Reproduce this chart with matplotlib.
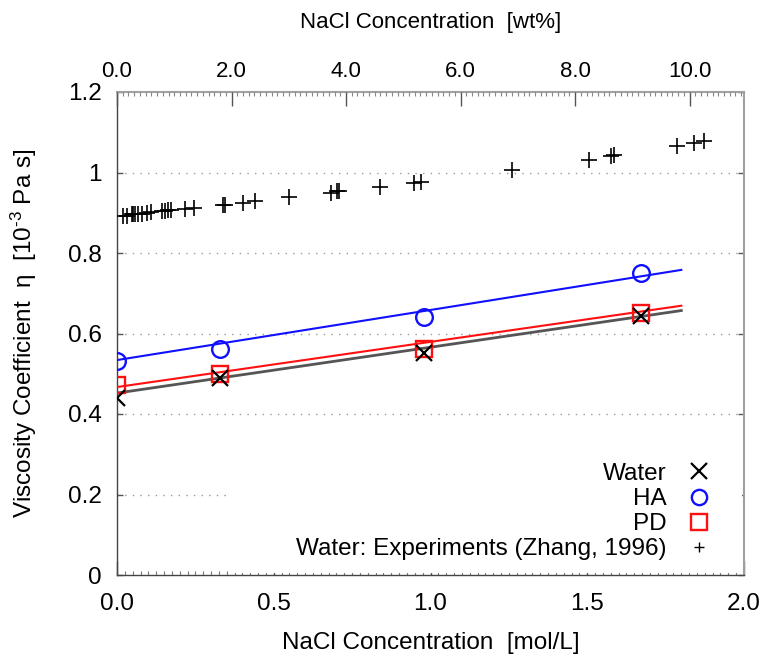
import matplotlib
matplotlib.use("Agg")
import matplotlib.pyplot as plt
from matplotlib.lines import Line2D
from matplotlib.patches import Rectangle
from matplotlib.ticker import MultipleLocator
from matplotlib import font_manager

# ---------------- data ----------------
sim_x = [0.0, 0.33, 0.98, 1.67]
water_y = [0.44, 0.49, 0.552, 0.643]
ha_y = [0.532, 0.561, 0.641, 0.750]
pd_y = [0.472, 0.499, 0.561, 0.651]

fit_x = [0.0, 1.8]
water_fit = [0.452, 0.657]
ha_fit = [0.534, 0.758]
pd_fit = [0.467, 0.669]

exp_x = [0.020, 0.031, 0.047, 0.052, 0.058, 0.068, 0.079, 0.095, 0.108, 0.143,
         0.153, 0.164, 0.172, 0.217, 0.247, 0.338, 0.345, 0.402, 0.441, 0.550,
         0.684, 0.702, 0.707, 0.840, 0.947, 0.971, 1.261, 1.506, 1.575, 1.584,
         1.785, 1.839, 1.873]
exp_y = [0.893, 0.893, 0.896, 0.896, 0.896, 0.897, 0.898, 0.899, 0.901, 0.904,
         0.905, 0.906, 0.906, 0.909, 0.911, 0.919, 0.919, 0.925, 0.928, 0.938,
         0.950, 0.953, 0.953, 0.964, 0.973, 0.977, 1.007, 1.032, 1.041, 1.043,
         1.066, 1.073, 1.078]

x_ticks = [0.0, 0.5, 1.0, 1.5, 2.0]
x_ticklabels = ["0.0", "0.5", "1.0", "1.5", "2.0"]
y_ticks = [0, 0.2, 0.4, 0.6, 0.8, 1.0, 1.2]
y_ticklabels = ["0", "0.2", "0.4", "0.6", "0.8", "1", "1.2"]
top_ticks = [0, 2, 4, 6, 8, 10]
top_ticklabels = ["0.0", "2.0", "4.0", "6.0", "8.0", "10.0"]
top_max = 10.95  # wt% at 2.0 mol/L on the top scale

labels = ["Water", "HA", "PD", "Water: Experiments (Zhang, 1996)"]

# ---------------- style ----------------
names = {f.name for f in font_manager.fontManager.ttflist}
main_font = "Liberation Sans" if "Liberation Sans" in names else "DejaVu Sans"
plt.rcParams['font.family'] = [main_font, 'DejaVu Sans']
plt.rcParams['mathtext.fontset'] = 'custom'
plt.rcParams['mathtext.rm'] = main_font
plt.rcParams['mathtext.it'] = main_font + ':italic'
plt.rcParams['mathtext.bf'] = main_font + ':bold'

fig = plt.figure(figsize=(7.63, 6.55), dpi=100)
ax = fig.add_axes([117/763, 80/655, 627/763, 483/655])

FS_TICK = 17.5
FS_LAB = 17.5
FS_TOP = 16
grid_color = "#9a9a9a"

# gridlines
for yv in y_ticks[1:-1]:
    ax.axhline(yv, color=grid_color, lw=1.0, ls=(0, (1, 4.5)), zorder=1)

# white box behind legend (like the key box)
ax.add_patch(Rectangle((0.177, 0.005), 0.82, 0.245, transform=ax.transAxes,
                       facecolor="white", edgecolor="none", zorder=2))

# fit lines
ax.plot(fit_x, water_fit, color="#555555", lw=2.0, zorder=3)
ax.plot(fit_x, ha_fit, color="#1010ff", lw=1.5, zorder=3)
ax.plot(fit_x, pd_fit, color="#ff1010", lw=1.5, zorder=3)

# markers
ax.plot(sim_x, water_y, ls="none", marker="x", ms=11, mew=1.6, color="black", zorder=5)
ax.plot(sim_x, ha_y, ls="none", marker="o", ms=12, mew=1.7, mfc="none", mec="#1010ff", zorder=5)
ax.plot(sim_x, pd_y, ls="none", marker="s", ms=11, mew=1.7, mfc="none", mec="#ff1010", zorder=4)
ax.plot(exp_x, exp_y, ls="none", marker="+", ms=11, mew=1.2, color="black", zorder=5)

ax.set_xlim(0, 2.0)
ax.set_ylim(0, 1.2)
ax.set_xticks(x_ticks)
ax.set_xticklabels(x_ticklabels)
ax.set_yticks(y_ticks)
ax.set_yticklabels(y_ticklabels)
ax.xaxis.set_minor_locator(MultipleLocator(0.025))

ax.tick_params(axis="x", which="major", direction="in", length=10, width=1,
               color="#555555", labelsize=FS_TICK, pad=13, top=False)
ax.tick_params(axis="x", which="minor", direction="in", length=3, width=0.8,
               color="#777777", top=False)
ax.tick_params(axis="y", which="major", direction="in", length=4, width=1,
               color="#555555", labelsize=FS_TICK, pad=11, right=True)

for s in ["left", "bottom"]:
    ax.spines[s].set_color("#444444")
    ax.spines[s].set_linewidth(1.0)
for s in ["top", "right"]:
    ax.spines[s].set_color("#a0a0a0")
    ax.spines[s].set_linewidth(1.5)

ax.set_xlabel("NaCl Concentration  [mol/L]", fontsize=FS_LAB, labelpad=12)
ax.set_ylabel("Viscosity Coefficient  \u03b7  [10$^{\\text{-3}}$ Pa s]", fontsize=FS_LAB)
ax.yaxis.set_label_coords(-0.125, 0.5)

# top axis
ax2 = ax.twiny()
ax2.set_xlim(0, top_max)
ax2.set_xticks(top_ticks)
ax2.set_xticklabels(top_ticklabels)
ax2.xaxis.set_minor_locator(MultipleLocator(0.1))
ax2.tick_params(axis="x", which="major", direction="in", length=10, width=1,
                color="#555555", labelsize=FS_TOP, pad=7)
ax2.tick_params(axis="x", which="minor", direction="in", length=3, width=0.8,
                color="#888888")
ax2.set_xlabel("NaCl Concentration  [wt%]", fontsize=FS_TOP, labelpad=24)
for s in ax2.spines.values():
    s.set_visible(False)

# legend
handles = [
    Line2D([], [], ls="none", marker="x", ms=11, mew=1.6, color="black"),
    Line2D([], [], ls="none", marker="o", ms=11, mew=1.7, mfc="none", mec="#1010ff"),
    Line2D([], [], ls="none", marker="s", ms=11, mew=1.7, mfc="none", mec="#ff1010"),
    Line2D([], [], ls="none", marker="+", ms=7, mew=1.0, color="black"),
]
leg = ax.legend(handles, labels, loc="lower right", markerfirst=False, frameon=False,
                fontsize=FS_LAB, handlelength=1.2, handletextpad=0.75, labelspacing=0.13,
                borderaxespad=0.3, borderpad=0.3, bbox_to_anchor=(0.975, 0.0))
leg.set_zorder(6)

fig.savefig("out.png", dpi=100)
